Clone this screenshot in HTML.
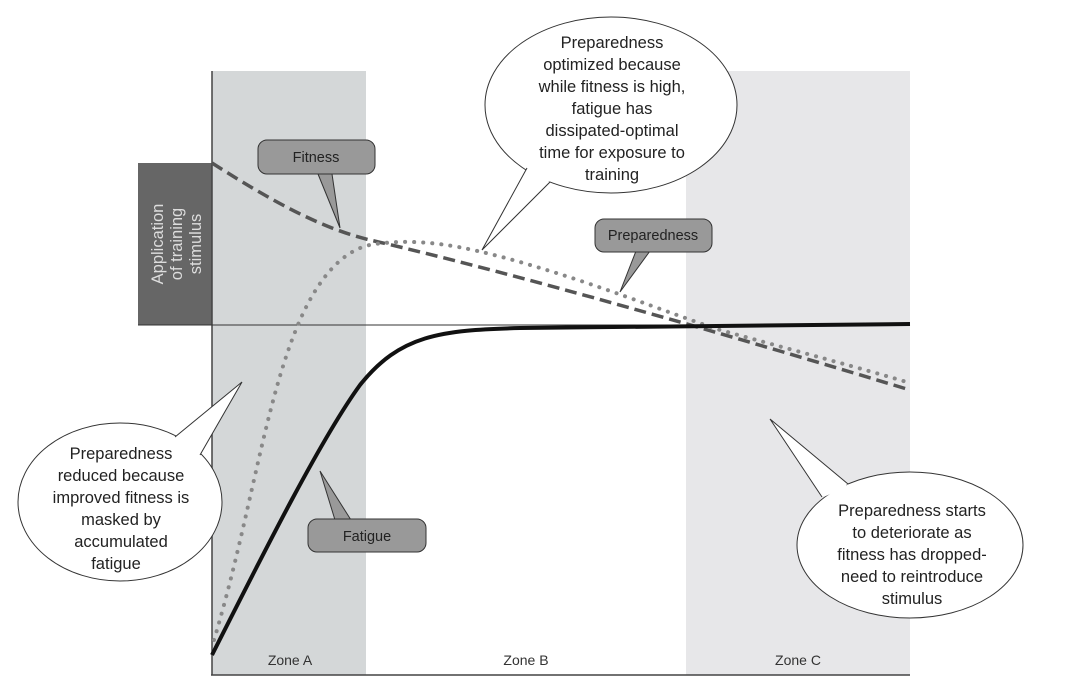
<!DOCTYPE html>
<html><head><style>body{margin:0;background:#fff}svg{display:block}text{font-family:"Liberation Sans",sans-serif}</style></head><body>
<svg width="1080" height="697" viewBox="0 0 1080 697">
<rect x="212" y="71" width="154" height="604" fill="#d4d7d8"/>
<rect x="686" y="71" width="224" height="604" fill="#e7e7e9"/>
<rect x="138" y="163" width="74" height="162" fill="#666"/>
<text transform="translate(163,244) rotate(-90)" text-anchor="middle" font-size="16.5" fill="#ddd">Application</text>
<text transform="translate(182,244) rotate(-90)" text-anchor="middle" font-size="16.5" fill="#ddd">of training</text>
<text transform="translate(201,244) rotate(-90)" text-anchor="middle" font-size="16.5" fill="#ddd">stimulus</text>
<line x1="212" y1="71" x2="212" y2="675" stroke="#444" stroke-width="1.5"/>
<line x1="211" y1="675" x2="910" y2="675" stroke="#444" stroke-width="1.5"/>
<line x1="138" y1="325" x2="910" y2="325" stroke="#333" stroke-width="1"/>
<text x="290" y="665" text-anchor="middle" font-size="14" fill="#333">Zone A</text>
<text x="526" y="665" text-anchor="middle" font-size="14" fill="#333">Zone B</text>
<text x="798" y="665" text-anchor="middle" font-size="14" fill="#333">Zone C</text>
<path d="M212,163 C270,200 320,228 370,240 C480,265 680,320 910,390" fill="none" stroke="#555" stroke-width="3.5" stroke-dasharray="12,6"/>
<path d="M214,640 C250,520 265,400 300,320 C320,275 345,248 375,244 C420,238 460,245 520,262 C600,285 660,310 720,330 C800,352 860,368 910,383" fill="none" stroke="#888" stroke-width="4" stroke-dasharray="0.1,9" stroke-linecap="round"/>
<path d="M212,655 C260,560 320,440 360,385 C400,335 440,330 520,328 C620,326 760,325 910,324" fill="none" stroke="#111" stroke-width="4"/>
<path d="M318,174 L340,228 L332,174 Z" fill="#999" stroke="#333"/>
<rect x="258" y="140" width="117" height="34" rx="9" fill="#999" stroke="#333"/>
<path d="M319,172 L331,172" stroke="#999" stroke-width="3"/>
<text x="316" y="162" text-anchor="middle" font-size="14.5" fill="#222">Fitness</text>
<path d="M636,251 L620,292 L650,251 Z" fill="#999" stroke="#333"/>
<rect x="595" y="219" width="117" height="33" rx="9" fill="#999" stroke="#333"/>
<path d="M637,250 L649,250" stroke="#999" stroke-width="3"/>
<text x="653" y="240" text-anchor="middle" font-size="14.5" fill="#222">Preparedness</text>
<path d="M335,520 L320,471 L351,520 Z" fill="#999" stroke="#333"/>
<rect x="308" y="519" width="118" height="33" rx="9" fill="#999" stroke="#333"/>
<path d="M336,521 L350,521" stroke="#999" stroke-width="3"/>
<text x="367" y="541" text-anchor="middle" font-size="14.5" fill="#222">Fatigue</text>
<ellipse cx="611" cy="105" rx="126" ry="88" fill="#fff" stroke="#333"/>
<path d="M527,168 L482,250 L550,182" fill="#fff" stroke="#333"/>
<path d="M529,167 L549,180" stroke="#fff" stroke-width="4"/>
<g font-size="16.5" fill="#222" text-anchor="middle">
<text x="612" y="48">Preparedness</text><text x="612" y="70">optimized because</text><text x="612" y="92">while fitness is high,</text><text x="612" y="114">fatigue has</text><text x="612" y="136">dissipated-optimal</text><text x="612" y="158">time for exposure to</text><text x="612" y="180">training</text>
</g>
<ellipse cx="120" cy="502" rx="102" ry="79" fill="#fff" stroke="#333"/>
<path d="M175,437 L242,382 L200,455" fill="#fff" stroke="#333"/>
<path d="M177,438 L199,453" stroke="#fff" stroke-width="4"/>
<g font-size="16.5" fill="#222" text-anchor="middle">
<text x="121" y="459">Preparedness</text><text x="121" y="481">reduced because</text><text x="121" y="503">improved fitness is</text><text x="121" y="525">masked by</text><text x="121" y="547">accumulated</text><text x="116" y="569">fatigue</text>
</g>
<ellipse cx="910" cy="545" rx="113" ry="73" fill="#fff" stroke="#333"/>
<path d="M822,497 L770,419 L848,484" fill="#fff" stroke="#333"/>
<path d="M823,495 L846,485" stroke="#fff" stroke-width="4"/>
<g font-size="16.5" fill="#222" text-anchor="middle">
<text x="912" y="516">Preparedness starts</text><text x="912" y="538">to deteriorate as</text><text x="912" y="560">fitness has dropped-</text><text x="912" y="582">need to reintroduce</text><text x="912" y="604">stimulus</text>
</g>
</svg>
</body></html>
